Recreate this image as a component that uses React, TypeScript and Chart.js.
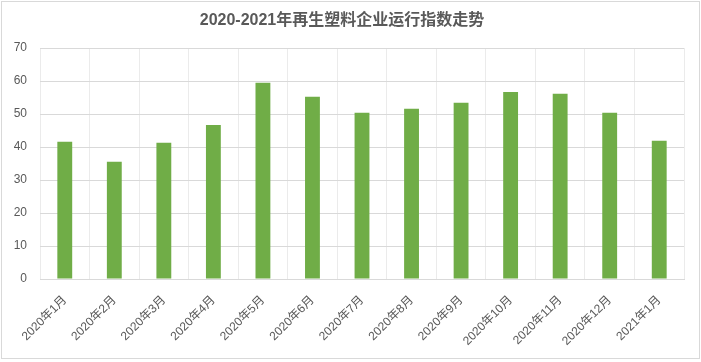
import React, { useEffect, useRef } from "react";
import { Chart, registerables } from "chart.js";

Chart.register(...registerables);

const TITLE = "2020-2021年再生塑料企业运行指数走势";
const categories = [
  "2020年1月", "2020年2月", "2020年3月", "2020年4月", "2020年5月", "2020年6月",
  "2020年7月", "2020年8月", "2020年9月", "2020年10月", "2020年11月", "2020年12月", "2021年1月",
];
const values = [41.6, 35.5, 41.3, 46.7, 59.5, 55.2, 50.4, 51.6, 53.4, 56.7, 56.1, 50.4, 41.9];
const yMin = 0;
const yMax = 70;
const yStep = 10;

const FONT = "'Liberation Sans', 'Noto Sans CJK SC', sans-serif";

const framePlugin = {
  id: "frame",
  beforeDraw(chart: any) {
    const ctx = chart.ctx;
    ctx.save();
    ctx.fillStyle = "#ffffff";
    ctx.fillRect(0, 0, chart.width, chart.height);
    ctx.restore();
  },
  afterDraw(chart: any) {
    const ctx = chart.ctx;
    ctx.save();
    ctx.strokeStyle = "#d9d9d9";
    ctx.lineWidth = 1;
    ctx.strokeRect(1.5, 1.5, 698, 357);
    ctx.restore();
  },
};

export default function App() {
  const ref = useRef<HTMLCanvasElement>(null);
  useEffect(() => {
    if (!ref.current) return;
    const chart = new Chart(ref.current, {
      type: "bar",
      data: {
        labels: categories,
        datasets: [
          {
            data: values,
            backgroundColor: "#70AD47",
            barPercentage: 0.3,
            categoryPercentage: 1,
          },
        ],
      },
      options: {
        responsive: false,
        animation: false,
        layout: { padding: { left: 0, right: 17, top: 0, bottom: 0 } },
        plugins: {
          legend: { display: false },
          tooltip: { enabled: false },
          title: {
            display: true,
            text: TITLE,
            color: "#595959",
            font: { size: 16, weight: "bold", family: FONT },
            padding: { top: 11, bottom: 17.8 },
          },
        },
        scales: {
          x: {
            grid: { color: "#ebebeb", drawTicks: false, offset: true },
            border: { color: "#d9d9d9" },
            ticks: {
              color: "#595959",
              font: { size: 12, family: FONT },
              maxRotation: 45,
              minRotation: 45,
              padding: 14,
              autoSkip: false,
            },
            afterFit(scale: any) {
              scale.height = 83;
            },
          },
          y: {
            min: yMin,
            max: yMax,
            grid: { color: "#d9d9d9", drawTicks: false },
            border: { display: false },
            ticks: {
              stepSize: yStep,
              color: "#595959",
              font: { size: 12, family: FONT },
              padding: 13,
            },
            afterFit(scale: any) {
              scale.width = 40;
            },
          },
        },
      },
      plugins: [framePlugin],
    });
    return () => chart.destroy();
  }, []);
  return (
    <div style={{ position: "fixed", left: 0, top: 0, width: 701, height: 362 }}>
      <canvas ref={ref} width={701} height={362} />
    </div>
  );
}
